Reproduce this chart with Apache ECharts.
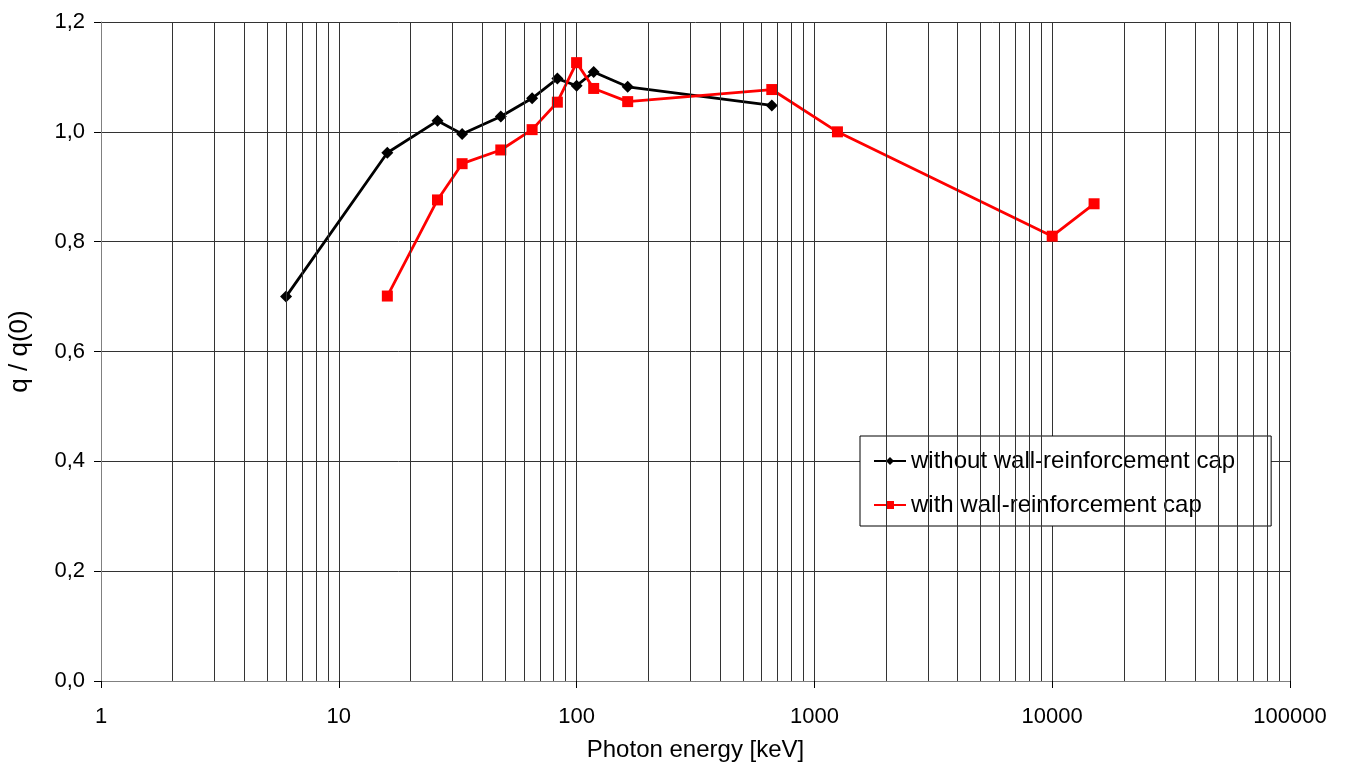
<!DOCTYPE html>
<html>
<head>
<meta charset="utf-8">
<title>q / q(0) vs photon energy</title>
<script src="https://cdn.jsdelivr.net/npm/echarts@6/dist/echarts.min.js"></script>
<style>
  html, body { margin: 0; padding: 0; background: #fff; }
  #chart { width: 1346px; height: 764px; }
</style>
</head>
<body>
<div id="chart"></div>
<script>
// photon energy [keV] and q/q(0)
var energyWithout = [6, 16, 26, 33, 48, 65, 83, 100, 118, 164, 662];
var qWithout = [0.70, 0.962, 1.020, 0.996, 1.028, 1.061, 1.097, 1.084, 1.109, 1.082, 1.048];
var energyWith = [16, 26, 33, 48, 65, 83, 100, 118, 164, 662, 1250, 10000, 15000];
var qWith = [0.701, 0.876, 0.942, 0.967, 1.004, 1.054, 1.126, 1.079, 1.055, 1.077, 1.000, 0.810, 0.869];

var seriesNames = ['without wall-reinforcement cap', 'with wall-reinforcement cap'];
var decades = [1, 10, 100, 1000, 10000];
var minorSteps = [2, 3, 4, 5, 6, 7, 8, 9];

function pairs(xs, ys) {
    return xs.map(function (x, i) { return [x, ys[i]]; });
}

// vertical grid lines at 2..9 of every decade
var minorGrid = [];
decades.forEach(function (d) {
    minorSteps.forEach(function (k) { minorGrid.push({ xAxis: k * d }); });
});

var font = 'Liberation Sans, Arial, sans-serif';
var myChart = echarts.init(document.getElementById('chart'));
var option = {
    animation: false,
    grid: { left: 101, top: 22, width: 1189, height: 659, containLabel: false, outerBoundsMode: 'none' },
    legend: {
        orient: 'vertical',
        left: 860,
        top: 436,
        data: seriesNames,
        padding: [13, 36, 9, 13],
        itemGap: 20,
        itemWidth: 32,
        itemHeight: 10,
        borderColor: '#000',
        borderWidth: 1,
        borderRadius: 0,
        backgroundColor: '#fff',
        textStyle: { fontFamily: font, fontSize: 24, color: '#000' }
    },
    xAxis: {
        type: 'log',
        logBase: 10,
        min: 1,
        max: 100000,
        name: 'Photon energy [keV]',
        nameLocation: 'middle',
        nameGap: 57,
        nameTextStyle: { fontFamily: font, fontSize: 24, color: '#000' },
        axisLine: { lineStyle: { color: '#808080', width: 1 } },
        axisTick: { show: true, length: 7, lineStyle: { color: '#000' } },
        axisLabel: {
            margin: 25,
            fontFamily: font,
            fontSize: 22,
            color: '#000',
            formatter: function (v) { return String(Math.round(v)); }
        },
        splitLine: { show: true, lineStyle: { color: '#333', width: 1 } }
    },
    yAxis: {
        type: 'value',
        min: 0,
        max: 1.2,
        interval: 0.2,
        name: 'q / q(0)',
        nameLocation: 'middle',
        nameGap: 68,
        nameTextStyle: { fontFamily: font, fontSize: 26, color: '#000' },
        axisLine: { show: true, lineStyle: { color: '#808080', width: 1 } },
        axisTick: { show: true, length: 7, lineStyle: { color: '#000' } },
        axisLabel: {
            margin: 16,
            fontFamily: font,
            fontSize: 22,
            color: '#000',
            formatter: function (v) { return v.toFixed(1).replace('.', ','); }
        },
        splitLine: { show: true, lineStyle: { color: '#333', width: 1 } }
    },
    series: [
        {
            name: 'grid',
            type: 'line',
            data: [],
            z: 1,
            silent: true,
            markLine: {
                silent: true,
                symbol: ['none', 'none'],
                label: { show: false },
                lineStyle: { color: '#333', width: 1, type: 'solid' },
                data: minorGrid
            }
        },
        {
            name: seriesNames[0],
            type: 'line',
            z: 3,
            data: pairs(energyWithout, qWithout),
            symbol: 'diamond',
            symbolSize: 12,
            color: '#000',
            lineStyle: { color: '#000', width: 2.8 },
            itemStyle: { color: '#000' }
        },
        {
            name: seriesNames[1],
            type: 'line',
            z: 4,
            data: pairs(energyWith, qWith),
            symbol: 'rect',
            symbolSize: 11,
            color: '#ff0000',
            lineStyle: { color: '#ff0000', width: 2.8 },
            itemStyle: { color: '#ff0000' }
        }
    ]
};
myChart.setOption(option);
</script>
</body>
</html>
